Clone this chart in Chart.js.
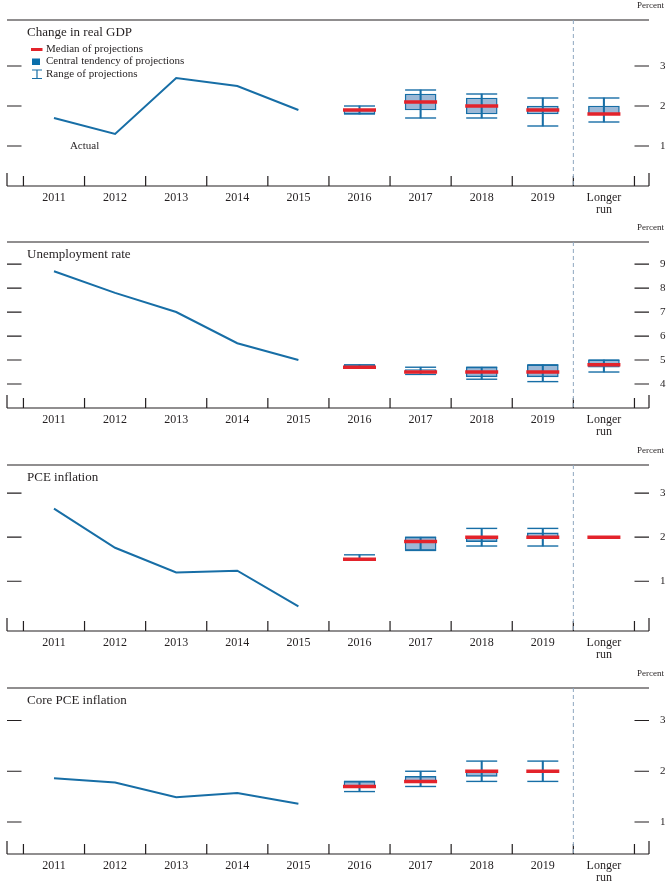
<!DOCTYPE html>
<html>
<head>
<meta charset="utf-8">
<script src="https://cdn.jsdelivr.net/npm/chart.js@4.4.1/dist/chart.umd.min.js"></script>
<style>
  html, body { margin: 0; padding: 0; background: #fff; overflow: hidden; }
  .panel { position: absolute; left: 0; width: 671px; height: 222px; }
</style>
</head>
<body>
<div class="panel" style="top:0px"><canvas id="gdp" width="671" height="222"></canvas></div>
<div class="panel" style="top:222px"><canvas id="unemp" width="671" height="222"></canvas></div>
<div class="panel" style="top:445px"><canvas id="pce" width="671" height="222"></canvas></div>
<div class="panel" style="top:668px"><canvas id="core" width="671" height="222"></canvas></div>
<script>
// categories along the bottom of every panel
const categories = ['2011', '2012', '2013', '2014', '2015', '2016', '2017', '2018', '2019', ['Longer', 'run']];
const firstProjection = 5; // index of 2016

// Change in real GDP
const gdpActual = [1.7, 1.3, 2.7, 2.5, 1.9];
const gdpMedian = [1.9, 2.1, 2.0, 1.9, 1.8];
const gdpCentralLow = [1.8, 1.9, 1.8, 1.8, 1.8];
const gdpCentralHigh = [1.9, 2.3, 2.2, 2.0, 2.0];
const gdpRangeLow = [1.8, 1.7, 1.7, 1.5, 1.6];
const gdpRangeHigh = [2.0, 2.4, 2.3, 2.2, 2.2];
const gdpTicks = [1, 2, 3];

// Unemployment rate
const unempActual = [8.7, 7.8, 7.0, 5.7, 5.0];
const unempMedian = [4.7, 4.5, 4.5, 4.5, 4.8];
const unempCentralLow = [4.7, 4.5, 4.3, 4.3, 4.7];
const unempCentralHigh = [4.8, 4.6, 4.7, 4.8, 5.0];
const unempRangeLow = [4.7, 4.4, 4.2, 4.1, 4.5];
const unempRangeHigh = [4.8, 4.7, 4.7, 4.8, 5.0];
const unempTicks = [4, 5, 6, 7, 8, 9];

// PCE inflation
const pceActual = [2.65, 1.76, 1.2, 1.24, 0.43];
const pceMedian = [1.5, 1.9, 2.0, 2.0, 2.0];
const pceCentralLow = [1.5, 1.7, 1.9, 2.0, 2.0];
const pceCentralHigh = [1.5, 2.0, 2.0, 2.1, 2.0];
const pceRangeLow = [1.5, 1.7, 1.8, 1.8, 2.0];
const pceRangeHigh = [1.6, 2.0, 2.2, 2.2, 2.0];
const pceTicks = [1, 2, 3];

// Core PCE inflation (no longer-run projection)
const coreActual = [1.86, 1.78, 1.49, 1.57, 1.36];
const coreMedian = [1.7, 1.8, 2.0, 2.0];
const coreCentralLow = [1.7, 1.8, 1.9, 2.0];
const coreCentralHigh = [1.8, 1.9, 2.0, 2.0];
const coreRangeLow = [1.6, 1.7, 1.8, 1.8];
const coreRangeHigh = [1.8, 2.0, 2.2, 2.2];
const coreTicks = [1, 2, 3];

const BLUE = '#176ea6';
const BOX_FILL = '#9cb8d6';
const RED = '#e3232b';
const INK = '#231f20';
const SERIF = '"Liberation Serif", "Times New Roman", serif';

const points = (values, start) => values.map((v, i) => ({ x: start + i, y: v }));
const spans = (lo, hi, start) => lo.map((v, i) => ({ x: start + i, y: [v, hi[i]] }));

// frame, inside ticks, separator and the texts
const framePlugin = {
    id: 'frame',
    beforeDatasetsDraw(chart) {
        const { ctx, chartArea: { left, right, top, bottom }, scales: { x, y } } = chart;
        ctx.save();
        ctx.strokeStyle = INK;
        ctx.lineWidth = 1.2;
        ctx.beginPath();
        ctx.moveTo(left, top); ctx.lineTo(right, top);
        ctx.moveTo(left, bottom); ctx.lineTo(right, bottom);
        ctx.moveTo(left, bottom - 13); ctx.lineTo(left, bottom);
        ctx.moveTo(right, bottom - 13); ctx.lineTo(right, bottom);
        for (let i = 0; i <= categories.length; i++) {
            const px = x.getPixelForValue(i - 0.5);
            ctx.moveTo(px, bottom - 10); ctx.lineTo(px, bottom);
        }
        y.ticks.forEach(t => {
            const py = y.getPixelForValue(t.value);
            ctx.moveTo(left, py); ctx.lineTo(left + 14.5, py);
            ctx.moveTo(right - 14.5, py); ctx.lineTo(right, py);
        });
        ctx.stroke();

        // dashed line before the longer run column
        const sx = x.getPixelForValue(8.5);
        ctx.setLineDash([4, 3]);
        ctx.strokeStyle = '#8ea7c0';
        ctx.lineWidth = 1;
        ctx.beginPath();
        ctx.moveTo(sx, top); ctx.lineTo(sx, bottom);
        ctx.stroke();
        ctx.restore();
    },
    afterDraw(chart, args, opts) {
        const { ctx, chartArea: { left, right, top }, scales: { x, y } } = chart;
        ctx.save();
        ctx.fillStyle = INK;
        ctx.textBaseline = 'middle';

        ctx.font = '13px ' + SERIF;
        ctx.textAlign = 'left';
        ctx.fillText(opts.title, left + 20, top + 12.5);

        ctx.font = '9px ' + SERIF;
        ctx.textAlign = 'right';
        ctx.fillText('Percent', 664, top - 14);

        if (opts.legend) {
            ctx.font = '11px ' + SERIF;
            ctx.textAlign = 'left';
            ctx.fillText('Median of projections', left + 39, top + 29.5);
            ctx.fillText('Central tendency of projections', left + 39, top + 41.5);
            ctx.fillText('Range of projections', left + 39, top + 54);

            ctx.strokeStyle = RED;
            ctx.lineWidth = 3;
            ctx.beginPath();
            ctx.moveTo(left + 24, top + 29.5); ctx.lineTo(left + 35.5, top + 29.5);
            ctx.stroke();

            ctx.fillStyle = '#0a6fab';
            ctx.fillRect(left + 25, top + 38.5, 8, 6.5);

            ctx.strokeStyle = BLUE;
            ctx.lineWidth = 1.2;
            ctx.beginPath();
            ctx.moveTo(left + 25, top + 50); ctx.lineTo(left + 35, top + 50);
            ctx.moveTo(left + 25, top + 58.5); ctx.lineTo(left + 35, top + 58.5);
            ctx.moveTo(left + 30, top + 50); ctx.lineTo(left + 30, top + 58.5);
            ctx.stroke();
        }

        if (opts.actual) {
            ctx.fillStyle = INK;
            ctx.font = '11px ' + SERIF;
            ctx.textAlign = 'center';
            ctx.fillText('Actual', x.getPixelForValue(opts.actual[0]), y.getPixelForValue(opts.actual[1]));
        }
        ctx.restore();
    }
};

function makePanel(id, cfg) {
    const start = firstProjection;
    new Chart(document.getElementById(id), {
        type: 'bar',
        data: {
            datasets: [
                {
                    type: 'scatter', label: 'Median', order: 0,
                    data: points(cfg.median, start),
                    pointStyle: 'line', pointRadius: 16.5, pointHoverRadius: 16.5,
                    borderColor: RED, borderWidth: 3.5
                },
                {
                    type: 'scatter', label: 'Range low', order: 1,
                    data: points(cfg.rangeLow, start),
                    pointStyle: 'line', pointRadius: 15.5, pointHoverRadius: 15.5,
                    borderColor: BLUE, borderWidth: 1.4
                },
                {
                    type: 'scatter', label: 'Range high', order: 1,
                    data: points(cfg.rangeHigh, start),
                    pointStyle: 'line', pointRadius: 15.5, pointHoverRadius: 15.5,
                    borderColor: BLUE, borderWidth: 1.4
                },
                {
                    type: 'bar', label: 'Range', order: 2, grouped: false,
                    data: spans(cfg.rangeLow, cfg.rangeHigh, start),
                    barThickness: 1.4, backgroundColor: BLUE, borderWidth: 0
                },
                {
                    type: 'bar', label: 'Central tendency', order: 3, grouped: false,
                    data: spans(cfg.centralLow, cfg.centralHigh, start),
                    barThickness: 31, backgroundColor: BOX_FILL,
                    borderColor: BLUE, borderWidth: 1.4, borderSkipped: false
                },
                {
                    type: 'line', label: 'Actual', order: 4,
                    data: points(cfg.actual, 0),
                    borderColor: BLUE, borderWidth: 2, pointRadius: 0, tension: 0
                }
            ]
        },
        options: {
            responsive: false,
            animation: false,
            events: [],
            layout: { autoPadding: false, padding: { left: 7, top: 20, right: 0, bottom: 0 } },
            plugins: {
                legend: { display: false },
                tooltip: { enabled: false },
                frame: { title: cfg.title, legend: cfg.legend, actual: cfg.actualLabel }
            },
            scales: {
                x: {
                    type: 'linear',
                    min: -0.769,
                    max: 9.738,
                    offset: false,
                    afterBuildTicks: s => { s.ticks = categories.map((c, i) => ({ value: i })); },
                    afterFit: s => { s.height = 36; s.paddingLeft = 0; s.paddingRight = 0; },
                    grid: { display: false, drawTicks: false },
                    border: { display: false },
                    ticks: {
                        autoSkip: false, maxRotation: 0, padding: 6, color: INK,
                        font: { family: SERIF, size: 12, lineHeight: 1.0 },
                        callback: (v, i) => categories[i]
                    }
                },
                y: {
                    type: 'linear',
                    position: 'right',
                    min: cfg.min,
                    max: cfg.max,
                    afterBuildTicks: s => { s.ticks = cfg.ticks.map(v => ({ value: v })); },
                    afterFit: s => { s.width = 22; s.paddingTop = 0; s.paddingBottom = 0; },
                    grid: { display: false, drawTicks: false },
                    border: { display: false },
                    ticks: {
                        padding: 11, color: INK,
                        font: { family: SERIF, size: 11 },
                        callback: v => v
                    }
                }
            }
        },
        plugins: [framePlugin]
    });
}

makePanel('gdp', {
    title: 'Change in real GDP', legend: true, actualLabel: [0.5, 1.0],
    min: 0, max: 4.15, ticks: gdpTicks,
    actual: gdpActual, median: gdpMedian,
    centralLow: gdpCentralLow, centralHigh: gdpCentralHigh,
    rangeLow: gdpRangeLow, rangeHigh: gdpRangeHigh
});
makePanel('unemp', {
    title: 'Unemployment rate',
    min: 3, max: 9.92, ticks: unempTicks,
    actual: unempActual, median: unempMedian,
    centralLow: unempCentralLow, centralHigh: unempCentralHigh,
    rangeLow: unempRangeLow, rangeHigh: unempRangeHigh
});
makePanel('pce', {
    title: 'PCE inflation',
    min: -0.13, max: 3.64, ticks: pceTicks,
    actual: pceActual, median: pceMedian,
    centralLow: pceCentralLow, centralHigh: pceCentralHigh,
    rangeLow: pceRangeLow, rangeHigh: pceRangeHigh
});
makePanel('core', {
    title: 'Core PCE inflation',
    min: 0.37, max: 3.64, ticks: coreTicks,
    actual: coreActual, median: coreMedian,
    centralLow: coreCentralLow, centralHigh: coreCentralHigh,
    rangeLow: coreRangeLow, rangeHigh: coreRangeHigh
});
</script>
</body>
</html>
